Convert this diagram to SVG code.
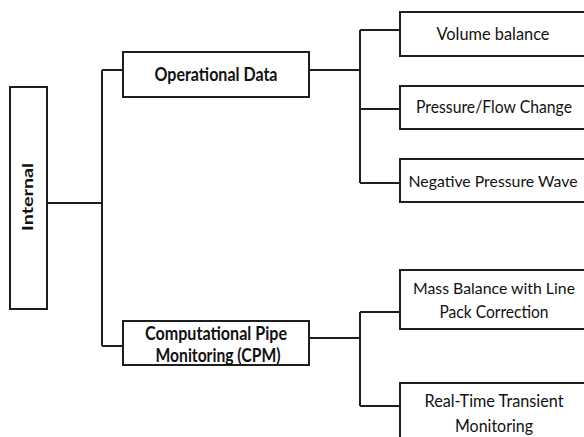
<svg xmlns="http://www.w3.org/2000/svg" width="584" height="437" viewBox="0 0 584 437">
  <style>
    .box { fill: #ffffff; stroke: #1e1e1e; stroke-width: 2; }
    .wire { fill: none; stroke: #1e1e1e; stroke-width: 2; }
    text { font-family: Lato, "Open Sans", sans-serif; fill: #111111; text-anchor: middle; }
    .leaf { font-size: 17px; }
    .long { font-size: 16px; }
    .mid { font-size: 18px; font-weight: bold; }
    .root { font-size: 16px; font-weight: bold; }
  </style>
  <rect width="584" height="437" fill="#ffffff"/>

  <g id="connectors">
    <!-- root to level-1 -->
    <path class="wire" d="M47 203 H102 M102 70 V346 M102 70 H123 M102 346 H123"/>
    <!-- Operational Data branch -->
    <path class="wire" d="M309 70 H360 M360 30 V183 M360 30 H400 M360 109 H400 M360 183 H400"/>
    <!-- CPM branch -->
    <path class="wire" d="M309 338 H360 M360 312 V406 M360 312 H400 M360 406 H400"/>
  </g>

  <g id="internal">
    <rect class="box" x="10" y="87" width="37" height="222"/>
    <text class="root" transform="translate(33 197) rotate(-90)" textLength="68" lengthAdjust="spacingAndGlyphs">Internal</text>
  </g>

  <g id="operational-data">
    <rect class="box" x="123" y="52" width="186" height="45"/>
    <text class="mid" x="216" y="81" textLength="123" lengthAdjust="spacingAndGlyphs">Operational Data</text>
  </g>

  <g id="cpm">
    <rect class="box" x="123" y="321" width="186" height="44"/>
    <text class="mid" x="216" y="340" textLength="142" lengthAdjust="spacingAndGlyphs">Computational Pipe</text>
    <text class="mid" x="218" y="362" textLength="125" lengthAdjust="spacingAndGlyphs">Monitoring (CPM)</text>
  </g>

  <g id="volume-balance">
    <rect class="box" x="400" y="12" width="190" height="44"/>
    <text class="leaf" x="493" y="40" textLength="113" lengthAdjust="spacingAndGlyphs">Volume balance</text>
  </g>

  <g id="pressure-flow">
    <rect class="box" x="400" y="86" width="190" height="43"/>
    <text class="leaf" x="494" y="113" textLength="156" lengthAdjust="spacingAndGlyphs">Pressure/Flow Change</text>
  </g>

  <g id="negative-pressure-wave">
    <rect class="box" x="400" y="159" width="190" height="43"/>
    <text class="leaf long" x="493" y="187" textLength="169" lengthAdjust="spacingAndGlyphs">Negative Pressure Wave</text>
  </g>

  <g id="mass-balance">
    <rect class="box" x="400" y="270" width="190" height="59"/>
    <text class="leaf long" x="494" y="294" textLength="162" lengthAdjust="spacingAndGlyphs">Mass Balance with Line</text>
    <text class="leaf" x="494" y="318" textLength="109" lengthAdjust="spacingAndGlyphs">Pack Correction</text>
  </g>

  <g id="real-time-transient">
    <rect class="box" x="400" y="383" width="190" height="70"/>
    <text class="leaf" x="494" y="407" textLength="139" lengthAdjust="spacingAndGlyphs">Real-Time Transient</text>
    <text class="leaf" x="494" y="432" textLength="78" lengthAdjust="spacingAndGlyphs">Monitoring</text>
  </g>
</svg>
